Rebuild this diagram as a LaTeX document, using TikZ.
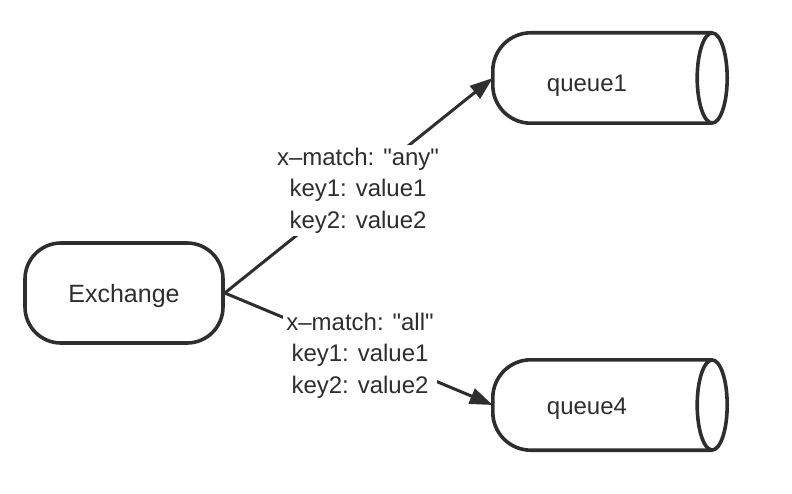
\documentclass[tikz,border=0pt]{standalone}
\usepackage{fontspec}
\setmainfont{Liberation Sans}[Ligatures=TeXOff]
\usetikzlibrary{arrows.meta}
\definecolor{ink}{HTML}{2E2E2E}
\begin{document}
\begin{tikzpicture}[x=1pt,y=-1pt,
  shapeline/.style={draw=ink, line width=3.6pt},
  txt/.style={font=\fontsize{24}{31.5}\selectfont, text=ink, inner sep=0pt},
  lbl/.style={font=\fontsize{24}{31.5}\selectfont, text=ink, align=center, fill=white, inner sep=3pt},
  conn/.style={draw=ink, line width=3pt, -{Triangle[length=23pt,width=16pt]}},
  body/.style={inner sep=0pt, minimum width=219pt, minimum height=90pt}]
\useasboundingbox (0,0) rectangle (792,494);
% Exchange
\node[shapeline, rounded corners=36pt, minimum width=198pt, minimum height=100pt] (ex) at (124,293) {};
\node[txt, anchor=base, font=\fontsize{25}{31.5}\selectfont] (ext) at (124,302) {Exchange};
% queues
\node[body] (q1) at (602.5,78) {};
\node[body] (q4) at (602.5,405) {};
\foreach \q in {q1,q4}{
  \draw[shapeline, rounded corners=38pt] (\q.north east) -- (\q.north west) -- (\q.south west) -- (\q.south east);
  \draw[shapeline] (\q.east) ellipse [x radius=15pt, y radius=45pt];
}
\node[txt, anchor=base] (q1t) at (587,92) {queue1};
\node[txt, anchor=base] (q4t) at (587,414) {queue4};
% connectors
\draw[conn] (ex.east) -- (q1.west);
\draw[conn] (ex.east) -- (q4.west);
% labels
\node[lbl] (l1) at (358,190.5) {x–match: "any"\\key1: value1\\key2: value2};
\node[lbl] (l2) at (360,355.5) {x–match: "all"\\key1: value1\\key2: value2};
\end{tikzpicture}
\end{document}
